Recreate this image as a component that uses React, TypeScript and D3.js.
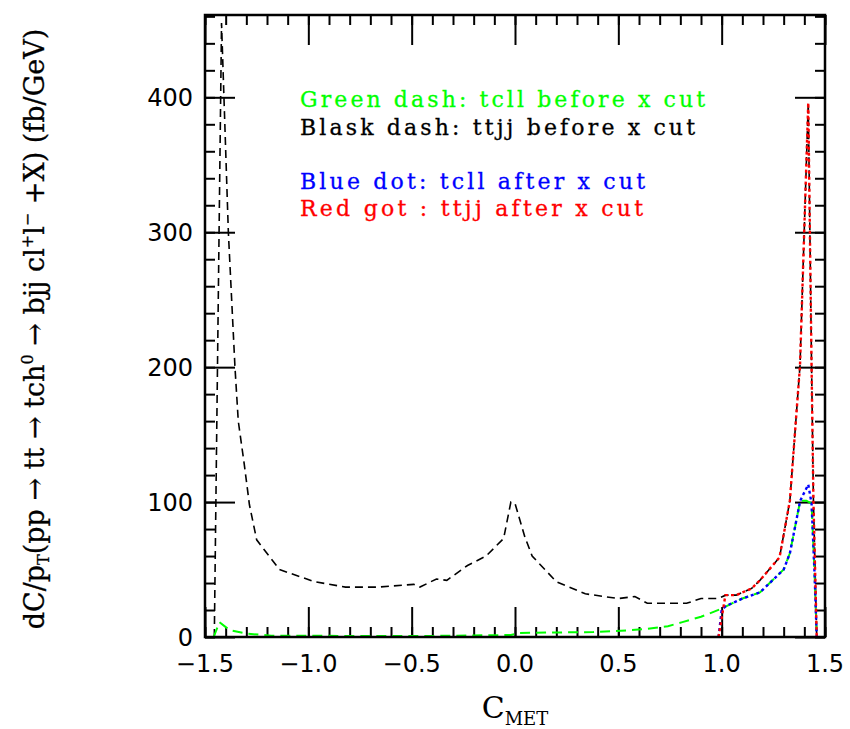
import * as d3 from "d3";
import { useEffect, useRef } from "react";

type Pt = [number, number];

// curves: [C_MET, dσ value]
const ttjjBefore: Pt[] = [
  [-1.455, 0], [-1.42, 455], [-1.387, 300], [-1.355, 200], [-1.339, 160],
  [-1.31, 128], [-1.285, 98], [-1.25, 72], [-1.14, 50], [-0.97, 41],
  [-0.82, 37], [-0.66, 37], [-0.49, 39], [-0.46, 37], [-0.38, 43],
  [-0.33, 42], [-0.23, 53], [-0.14, 60], [-0.055, 73], [-0.02, 100],
  [0.0, 99], [0.048, 74], [0.083, 60], [0.2, 41], [0.34, 32], [0.5, 28.5],
  [0.58, 30], [0.64, 25], [0.74, 25], [0.83, 25], [0.9, 28.5], [0.98, 28.5],
  [1.02, 31], [1.07, 31], [1.145, 36], [1.185, 42], [1.28, 59], [1.33, 101],
  [1.379, 201], [1.411, 357], [1.419, 396], [1.435, 201], [1.444, 101],
  [1.46, 0],
];

const ttjjAfter: Pt[] = [
  [0.985, 0], [1.018, 31], [1.07, 31], [1.145, 36], [1.185, 42], [1.28, 59],
  [1.33, 101], [1.379, 201], [1.411, 357], [1.419, 396], [1.435, 201],
  [1.444, 101], [1.46, 0],
];

const tcllBefore: Pt[] = [
  [-1.458, 0], [-1.43, 11], [-1.38, 5], [-1.3, 2.5], [-1.18, 1], [-0.8, 0.8],
  [-0.4, 0.8], [-0.02, 1.5], [0.02, 3], [0.38, 3.7], [0.55, 5], [0.64, 6],
  [0.74, 8], [0.81, 11], [0.9, 15], [1.0, 21], [1.065, 26], [1.1, 28.5],
  [1.185, 33], [1.3, 50], [1.33, 62], [1.38, 101], [1.41, 101], [1.435, 99],
  [1.45, 45], [1.46, 0],
];

const tcllAfter: Pt[] = [
  [0.985, 0], [1.0, 20], [1.02, 23], [1.065, 26], [1.1, 28.5], [1.185, 33],
  [1.3, 50], [1.33, 62], [1.38, 101], [1.419, 113], [1.435, 99], [1.45, 45],
  [1.46, 0],
];

const xTickLabels = [-1.5, -1.0, -0.5, 0.0, 0.5, 1.0, 1.5];
const yTickLabels = [0, 100, 200, 300, 400];

const legendLines = [
  { text: "Green dash: tcll before x cut", color: "#00ff00", width: 405 },
  { text: "Blask dash: ttjj before x cut", color: "#000000", width: 395 },
  { text: "Blue dot: tcll after x cut", color: "#0000ff", width: 345 },
  { text: "Red got : ttjj after x cut", color: "#ff0000", width: 343 },
];

const W = 850;
const H = 729;
const margin = { top: 15, right: 25, bottom: 92, left: 205 };
const innerW = W - margin.left - margin.right;
const innerH = H - margin.top - margin.bottom;
const serif = "'DejaVu Serif', serif";
const sans = "'DejaVu Sans', sans-serif";

const App = () => {
  const svgRef = useRef<SVGSVGElement | null>(null);

  useEffect(() => {
    const svg = d3.select(svgRef.current);
    svg.selectAll("*").remove();

    const x = d3.scaleLinear().domain([-1.5, 1.5]).range([0, innerW]);
    const y = d3.scaleLinear().domain([0, 461]).range([innerH, 0]);

    const g = svg
      .append("g")
      .attr("transform", `translate(${margin.left},${margin.top})`);

    // ticks: minor + major on all four sides
    const xMinor = d3.range(-15, 16).map((i) => i / 10);
    const yMinor = d3.range(0, 461, 20);
    const tickStyle = (sel: any) => {
      sel.select(".domain").remove();
      sel.selectAll("line").attr("stroke", "#000").attr("stroke-width", 2);
      sel.selectAll("text").remove();
    };

    g.append("g")
      .attr("transform", `translate(0,${innerH})`)
      .call(d3.axisBottom(x).tickValues(xMinor).tickSize(-10))
      .call(tickStyle);
    g.append("g")
      .attr("transform", `translate(0,${innerH})`)
      .call(d3.axisBottom(x).tickValues(xTickLabels).tickSize(-30))
      .call(tickStyle);
    g.append("g")
      .call(d3.axisTop(x).tickValues(xMinor).tickSize(-10))
      .call(tickStyle);
    g.append("g")
      .call(d3.axisTop(x).tickValues(xTickLabels).tickSize(-30))
      .call(tickStyle);
    g.append("g")
      .call(d3.axisLeft(y).tickValues(yMinor).tickSize(-10))
      .call(tickStyle);
    g.append("g")
      .call(d3.axisLeft(y).tickValues(yTickLabels).tickSize(-30))
      .call(tickStyle);
    g.append("g")
      .attr("transform", `translate(${innerW},0)`)
      .call(d3.axisRight(y).tickValues(yMinor).tickSize(-10))
      .call(tickStyle);
    g.append("g")
      .attr("transform", `translate(${innerW},0)`)
      .call(d3.axisRight(y).tickValues(yTickLabels).tickSize(-30))
      .call(tickStyle);

    // tick labels
    g.append("g")
      .selectAll("text")
      .data(xTickLabels)
      .join("text")
      .attr("x", (d) => x(d))
      .attr("y", innerH + 35)
      .attr("text-anchor", "middle")
      .attr("font-family", sans)
      .attr("font-size", 24)
      .attr("fill", "#000")
      .text((d) => (d < 0 ? "\u2212" : "") + Math.abs(d).toFixed(1));

    g.append("g")
      .selectAll("text")
      .data(yTickLabels)
      .join("text")
      .attr("x", -12)
      .attr("y", (d) => y(d) + 9)
      .attr("text-anchor", "end")
      .attr("font-family", sans)
      .attr("font-size", 24)
      .attr("fill", "#000")
      .text((d) => String(d));

    // curves
    const line = d3
      .line<Pt>()
      .x((d) => x(d[0]))
      .y((d) => y(d[1]));

    const curves = [
      { data: ttjjBefore, color: "#000", dash: "8,5", width: 1.6 },
      { data: tcllBefore, color: "#00ff00", dash: "10,6", width: 2 },
      { data: tcllAfter, color: "#0000ff", dash: "3,3", width: 2.4 },
      { data: ttjjAfter, color: "#ff0000", dash: "3,3", width: 2.4 },
    ];
    g.append("g")
      .selectAll("path")
      .data(curves)
      .join("path")
      .attr("fill", "none")
      .attr("stroke", (d) => d.color)
      .attr("stroke-width", (d) => d.width)
      .attr("stroke-dasharray", (d) => d.dash)
      .attr("d", (d) => line(d.data));

    // frame
    g.append("rect")
      .attr("width", innerW)
      .attr("height", innerH)
      .attr("fill", "none")
      .attr("stroke", "#000")
      .attr("stroke-width", 2.5);

    // legend text
    const legendY = [107, 135, 189, 216];
    svg
      .append("g")
      .selectAll("text")
      .data(legendLines)
      .join("text")
      .attr("x", 300)
      .attr("y", (_, i) => legendY[i])
      .attr("font-family", serif)
      .attr("font-size", 22)
      .attr("textLength", (d) => d.width)
      .attr("lengthAdjust", "spacing")
      .attr("fill", (d) => d.color)
      .attr("stroke", (d) => d.color)
      .attr("stroke-width", 0.3)
      .text((d) => d.text);

    // x axis title
    const xt = svg
      .append("text")
      .attr("x", 515)
      .attr("y", 718)
      .attr("text-anchor", "middle")
      .attr("font-family", serif)
      .attr("font-size", 30);
    xt.append("tspan").text("C");
    xt.append("tspan").attr("font-size", 18).attr("dy", 7).text("MET");

    // y axis title
    const yt = svg
      .append("text")
      .attr("transform", "translate(44,329) rotate(-90)")
      .attr("text-anchor", "middle")
      .attr("font-family", serif)
      .attr("font-size", 27)
      .attr("stroke", "#000")
      .attr("stroke-width", 0.3);
    const parts: [string, number, number?][] = [
      ["dC/p", 27],
      ["T", 16, 5],
      ["(pp \u2192 tt \u2192 tch", 27, -5],
      ["0", 16, -11],
      [" \u2192 bjj cl", 27, 11],
      ["+", 16, -11],
      ["l", 27, 11],
      ["\u2212", 16, -11],
      [" +X) (fb/GeV)", 27, 11],
    ];
    parts.forEach(([t, fs, dy]) => {
      const ts = yt.append("tspan").attr("font-size", fs).text(t);
      if (dy) ts.attr("dy", dy);
    });
  }, []);

  return (
    <svg
      ref={svgRef}
      width={W}
      height={H}
      style={{ position: "absolute", left: 0, top: 0, background: "#fff" }}
    />
  );
};

export default App;
